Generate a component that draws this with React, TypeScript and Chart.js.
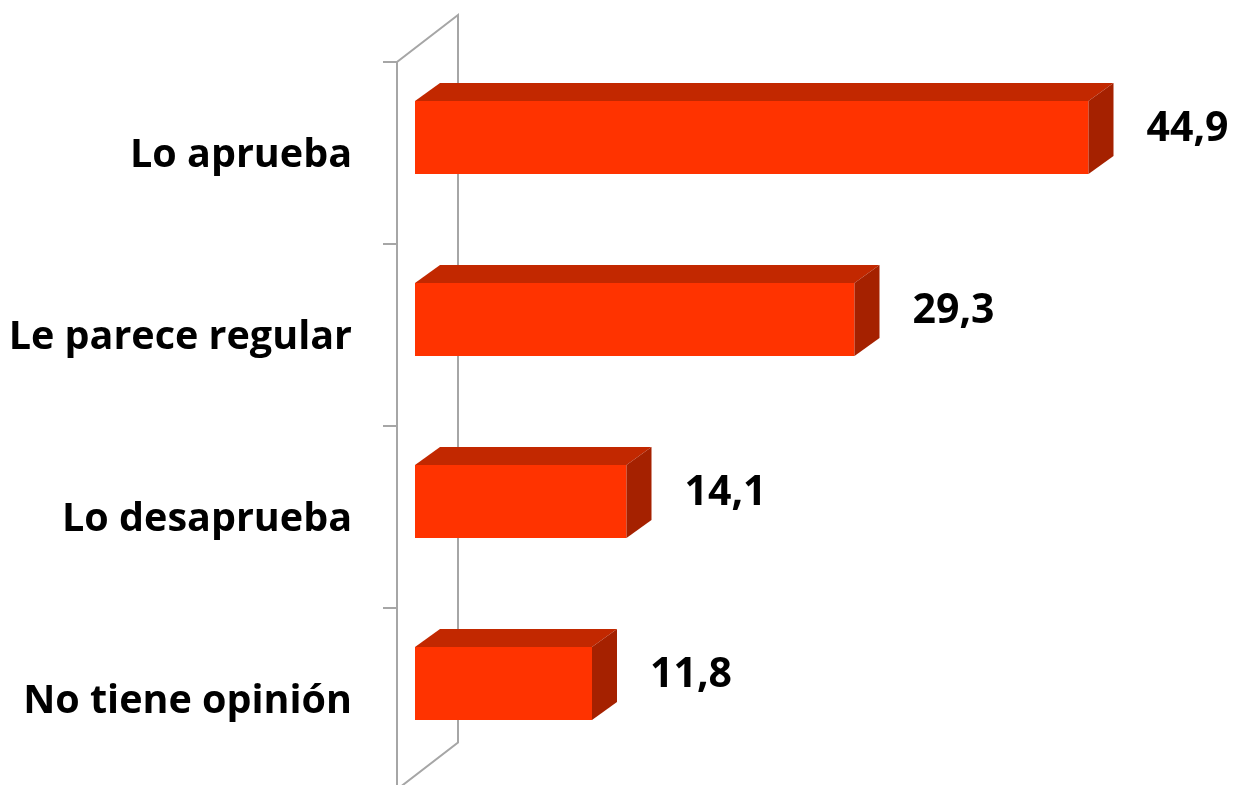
import React, { useEffect, useRef } from "react";
import { Chart, registerables } from "chart.js";

Chart.register(...registerables);

const categories = ["Lo aprueba", "Le parece regular", "Lo desaprueba", "No tiene opinión"];
const values = [44.9, 29.3, 14.1, 11.8];
const valueLabels = ["44,9", "29,3", "14,1", "11,8"];

const FRONT = "#FF3300";
const TOP = "#C22800";
const SIDE = "#A52100";
const WALL = "#A6A6A6";
const DX = 25;
const DY = 18;

const threeD = {
  id: "threeD",
  beforeDatasetsDraw(chart: any) {
    const ctx = chart.ctx;
    const xs = chart.scales.x;
    const ys = chart.scales.y;
    const x0 = xs.getPixelForValue(0);
    const fx = x0 - 18;
    const bx = x0 + 43;
    const band = (ys.bottom - ys.top) / categories.length;
    const fTop = ys.top + 15.5;
    const fBot = ys.bottom + 15;
    const wdy = 47;
    ctx.save();
    ctx.strokeStyle = WALL;
    ctx.lineWidth = 2;
    ctx.beginPath();
    ctx.moveTo(fx, fBot);
    ctx.lineTo(fx, fTop);
    ctx.lineTo(bx, fTop - wdy);
    ctx.lineTo(bx, fBot - wdy);
    ctx.lineTo(fx, fBot);
    ctx.stroke();
    ctx.beginPath();
    for (let i = 0; i <= categories.length; i++) {
      const y = fTop + band * i;
      ctx.moveTo(fx - 14, y);
      ctx.lineTo(fx, y);
    }
    ctx.stroke();
    ctx.restore();
  },
  afterDatasetsDraw(chart: any) {
    const ctx = chart.ctx;
    const meta = chart.getDatasetMeta(0);
    ctx.save();
    meta.data.forEach((bar: any, i: number) => {
      const { x, y, base, height } = bar.getProps(["x", "y", "base", "height"], true);
      const top = y - height / 2;
      const bottom = y + height / 2;
      ctx.fillStyle = TOP;
      ctx.beginPath();
      ctx.moveTo(base, top);
      ctx.lineTo(base + DX, top - DY);
      ctx.lineTo(x + DX, top - DY);
      ctx.lineTo(x, top);
      ctx.closePath();
      ctx.fill();
      ctx.fillStyle = SIDE;
      ctx.beginPath();
      ctx.moveTo(x, top);
      ctx.lineTo(x + DX, top - DY);
      ctx.lineTo(x + DX, bottom - DY);
      ctx.lineTo(x, bottom);
      ctx.closePath();
      ctx.fill();
      ctx.fillStyle = "#000";
      ctx.font = "bold 41px 'Open Sans'";
      ctx.textAlign = "left";
      ctx.textBaseline = "middle";
      ctx.fillText(valueLabels[i], x + DX + 33, y - 8);
    });
    ctx.restore();
  },
};

export default function App() {
  const ref = useRef<HTMLCanvasElement>(null);
  useEffect(() => {
    if (!ref.current) return;
    const chart = new Chart(ref.current, {
      type: "bar",
      data: {
        labels: categories,
        datasets: [
          {
            data: values,
            backgroundColor: FRONT,
            borderWidth: 0,
            categoryPercentage: 1,
            barPercentage: 0.4,
          },
        ],
      },
      options: {
        indexAxis: "y",
        responsive: false,
        animation: false,
        layout: { padding: { left: 0, right: 76, top: 46.5, bottom: 10.5 } },
        plugins: { legend: { display: false }, tooltip: { enabled: false } },
        scales: {
          x: { display: false, min: 0, max: 50 },
          y: {
            position: "left",
            grid: { display: false, drawTicks: false },
            border: { display: false },
            afterFit: (s: any) => {
              s.width = 415;
              s.paddingTop = 0;
              s.paddingBottom = 0;
            },
            ticks: {
              color: "#000",
              font: { family: "'Open Sans'", weight: "bold", size: 39.5 },
              padding: 63,
              labelOffset: 18,
            },
          },
        },
      },
      plugins: [threeD],
    });
    return () => chart.destroy();
  }, []);
  return (
    <div style={{ position: "absolute", left: 0, top: 0, width: 1241, height: 785, background: "#fff" }}>
      <canvas ref={ref} width={1241} height={785} />
    </div>
  );
}
